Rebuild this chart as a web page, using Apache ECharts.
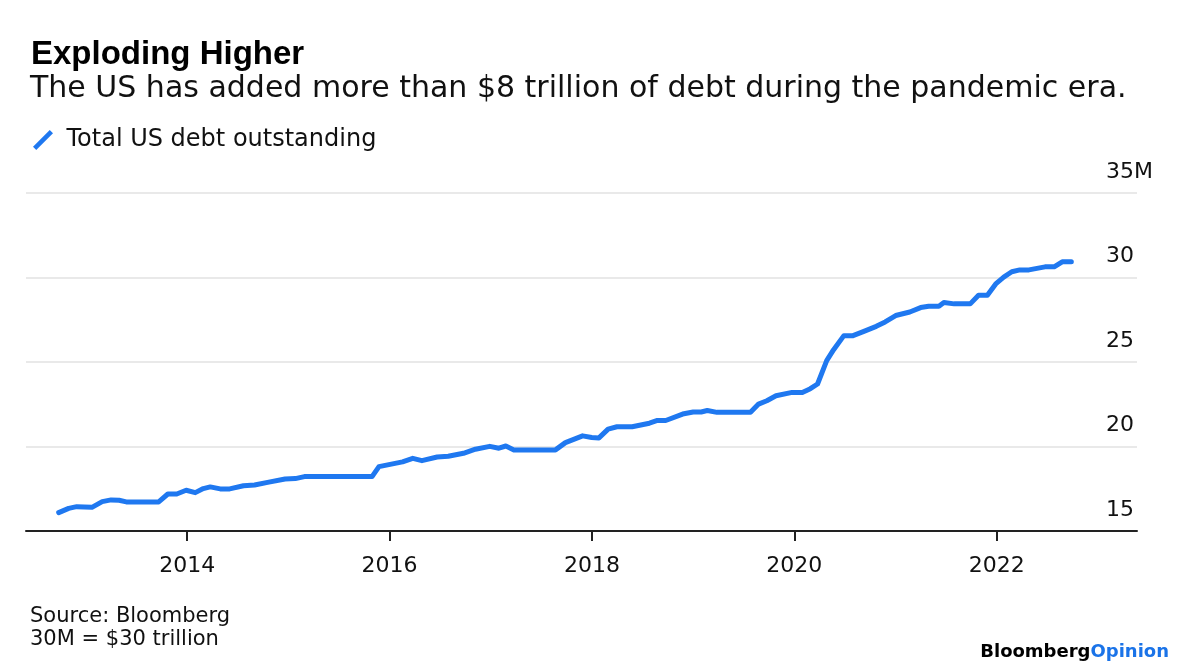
<!DOCTYPE html>
<html>
<head>
<meta charset="utf-8">
<script src="https://cdn.jsdelivr.net/npm/echarts@6/dist/echarts.min.js"></script>
<style>
  html, body { margin: 0; padding: 0; background: #fff; }
  #chart { width: 1200px; height: 672px; }
</style>
</head>
<body>
<div id="chart"></div>
<script>
// total US debt outstanding, trillions of dollars
const dates = [
  '2012-09-24', '2012-10-30', '2012-11-28', '2013-01-22', '2013-02-28', '2013-04-01',
  '2013-04-30', '2013-05-26', '2013-09-20', '2013-10-23', '2013-11-24', '2013-12-28',
  '2014-01-30', '2014-02-28', '2014-03-25', '2014-04-30', '2014-06-03', '2014-07-23',
  '2014-09-01', '2014-10-18', '2014-12-20', '2015-01-26', '2015-02-28', '2015-10-30',
  '2015-11-24', '2016-02-17', '2016-03-25', '2016-04-27', '2016-06-21', '2016-07-31',
  '2016-09-24', '2016-11-06', '2016-12-28', '2017-01-30', '2017-02-24', '2017-03-25',
  '2017-08-22', '2017-09-27', '2017-11-28', '2017-12-31', '2018-01-26', '2018-02-28',
  '2018-04-01', '2018-05-26', '2018-07-27', '2018-08-25', '2018-09-24', '2018-11-24',
  '2019-01-01', '2019-01-30', '2019-02-21', '2019-03-28', '2019-07-27', '2019-08-25',
  '2019-09-24', '2019-10-27', '2019-12-24', '2020-01-30', '2020-02-28', '2020-03-25',
  '2020-04-27', '2020-05-22', '2020-06-28', '2020-07-31', '2020-09-06', '2020-10-23',
  '2020-11-24', '2021-01-01', '2021-02-21', '2021-04-01', '2021-04-30', '2021-06-06',
  '2021-06-24', '2021-07-31', '2021-09-27', '2021-10-27', '2021-11-28', '2021-12-28',
  '2022-01-26', '2022-02-24', '2022-03-25', '2022-04-27', '2022-06-24', '2022-07-27',
  '2022-08-25', '2022-09-27'
];
const debt = [
  16.09, 16.34, 16.44, 16.40, 16.74, 16.84,
  16.82, 16.72, 16.72, 17.19, 17.19, 17.41,
  17.27, 17.51, 17.61, 17.49, 17.49, 17.68,
  17.72, 17.88, 18.08, 18.10, 18.22, 18.22,
  18.81, 19.09, 19.30, 19.16, 19.38, 19.42,
  19.60, 19.84, 20.01, 19.90, 20.03, 19.80,
  19.80, 20.23, 20.63, 20.53, 20.51, 21.03,
  21.17, 21.17, 21.38, 21.54, 21.54, 21.92,
  22.04, 22.04, 22.13, 22.02, 22.02, 22.51,
  22.71, 23.00, 23.20, 23.20, 23.42, 23.70,
  25.08, 25.73, 26.56, 26.56, 26.80, 27.11,
  27.37, 27.75, 27.96, 28.22, 28.30, 28.30,
  28.52, 28.44, 28.44, 28.95, 28.95, 29.62,
  30.02, 30.34, 30.45, 30.45, 30.63, 30.63,
  30.93, 30.93
];
const yearTicks = ['2014-01-01', '2016-01-01', '2018-01-01', '2020-01-01', '2022-01-01'];

const FONT = '"DejaVu Sans", sans-serif';
const BOLD = '"Liberation Sans", Arial, sans-serif';
const BLUE = '#1f78f0';

const chart = echarts.init(document.getElementById('chart'));
const ts = d => Date.parse(d + 'T00:00:00Z');
const tickTimes = yearTicks.map(ts);

chart.setOption({
  backgroundColor: '#fff',
  animation: false,
  textStyle: { fontFamily: FONT },
  title: [
    {
      text: 'Exploding Higher',
      left: 26, top: 33,
      textStyle: { fontSize: 33, fontWeight: 'bold', color: '#000', fontFamily: BOLD }
    },
    {
      text: 'The US has added more than $8 trillion of debt during the pandemic era.',
      left: 25, top: 69,
      textStyle: { fontSize: 30, fontWeight: 'normal', color: '#111', fontFamily: FONT }
    },
    {
      text: 'Source: Bloomberg\n30M = $30 trillion',
      left: 25, top: 600,
      textStyle: { fontSize: 21, fontWeight: 'normal', color: '#111', lineHeight: 23, fontFamily: FONT }
    },
    {
      text: '{a|Bloomberg}{b|Opinion}',
      right: 26, top: 638,
      textStyle: {
        rich: {
          a: { fontSize: 18, fontWeight: 'bold', color: '#000', fontFamily: FONT },
          b: { fontSize: 18, fontWeight: 'bold', color: '#1a73e8', fontFamily: FONT }
        }
      }
    }
  ],
  legend: {
    left: 28, top: 123,
    itemWidth: 21, itemHeight: 20,
    icon: 'path://M0,18 L18,0 L21.5,3.5 L3.5,21.5 Z',
    textStyle: { fontSize: 24, color: '#111', padding: [0, 0, 0, 8], fontFamily: FONT },
    data: ['Total US debt outstanding']
  },
  grid: { left: 26, right: 63, top: 193, bottom: 141, containLabel: false },
  xAxis: {
    type: 'value',
    min: ts('2012-05-29'),
    max: ts('2023-05-22'),
    axisLine: { show: true, lineStyle: { color: '#222', width: 2 } },
    axisTick: { show: true, length: 10, lineStyle: { color: '#222', width: 2 }, customValues: tickTimes },
    axisLabel: {
      customValues: tickTimes,
      formatter: v => String(new Date(v).getUTCFullYear()),
      fontSize: 22, color: '#111', margin: 24, fontFamily: FONT
    },
    splitLine: { show: false }
  },
  yAxis: {
    type: 'value',
    position: 'right',
    min: 15, max: 35, interval: 5,
    axisLine: { show: false },
    axisTick: { show: false },
    axisLabel: {
      margin: -31, align: 'left', verticalAlign: 'bottom',
      padding: [0, 0, 10, 0],
      fontSize: 22, color: '#111', fontFamily: FONT,
      formatter: v => (v === 35 ? '35M' : String(v))
    },
    splitLine: { lineStyle: { color: '#e9e9e9', width: 2 } }
  },
  series: [{
    name: 'Total US debt outstanding',
    type: 'line',
    data: dates.map((d, i) => [ts(d), debt[i]]),
    showSymbol: false,
    color: BLUE,
    lineStyle: { width: 5, color: BLUE, cap: 'round', join: 'round' }
  }]
});
</script>
</body>
</html>
